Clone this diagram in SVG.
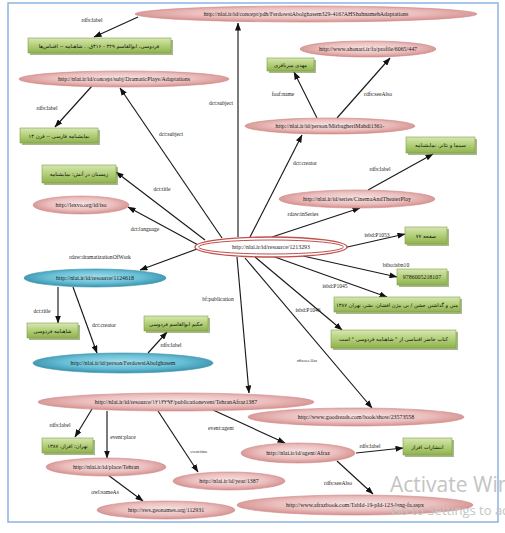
<svg xmlns="http://www.w3.org/2000/svg" width="505" height="533" viewBox="0 0 505 533">
<style>
.lbl{font-family:"Liberation Serif",serif;font-size:5.6px;fill:#222;text-anchor:middle}
.nt{font-family:"Liberation Serif",serif;font-size:5.9px;fill:#1a1a1a;text-anchor:middle;dominant-baseline:central}
.ft{font-family:"DejaVu Sans","Noto Sans",sans-serif;font-size:5.2px;fill:#111;text-anchor:middle;dominant-baseline:central}
.pink{fill:url(#gp);stroke:#cf8886;stroke-width:0.6}
.blue{fill:url(#gb);stroke:#3a8ea6;stroke-width:0.6}
.gbox{fill:url(#gg);stroke:#7f9f45;stroke-width:0.6}
.gsh{fill:#5f7f2a;opacity:0.55}
.e{stroke:#1a1a1a;stroke-width:1.15;fill:none;marker-end:url(#ah)}
.wm{font-family:"Open Sans","Liberation Sans",sans-serif;fill:#c4c4c4}
</style>
<defs>
<radialGradient id="gp" cx="50%" cy="45%" r="55%">
<stop offset="0" stop-color="#f7e2e2"/><stop offset="0.6" stop-color="#ebc0bf"/><stop offset="1" stop-color="#d48f8d"/>
</radialGradient>
<radialGradient id="gb" cx="50%" cy="45%" r="55%">
<stop offset="0" stop-color="#a5dcea"/><stop offset="0.6" stop-color="#68bfd6"/><stop offset="1" stop-color="#3892ac"/>
</radialGradient>
<linearGradient id="gg" x1="0" y1="0" x2="0" y2="1">
<stop offset="0" stop-color="#d7e7b3"/><stop offset="0.5" stop-color="#b2cf78"/><stop offset="1" stop-color="#8fb24f"/>
</linearGradient>
<marker id="ah" markerUnits="userSpaceOnUse" markerWidth="8" markerHeight="6" refX="7.5" refY="3" orient="auto">
<path d="M0,0 L8,3 L0,6 z" fill="#111"/>
</marker>
</defs>
<rect x="0" y="0" width="505" height="533" fill="#fff"/>
<rect x="8" y="3" width="490" height="519" fill="none" stroke="#8db3e2" stroke-width="1.5"/>

<g id="connectors">
<line class="e" x1="138" y1="17" x2="94" y2="37"/>
<text class="lbl" x="92" y="22">rdfs:label</text>
<line class="e" x1="92" y1="86" x2="55" y2="127"/>
<text class="lbl" x="47" y="110">rdfs:label</text>
<line class="e" x1="222" y1="238" x2="120" y2="88"/>
<text class="lbl" x="171" y="136">dct:subject</text>
<line class="e" x1="238" y1="237" x2="238" y2="23"/>
<text class="lbl" x="221" y="105">dct:subject</text>
<line class="e" x1="250" y1="237" x2="302" y2="135"/>
<text class="lbl" x="305" y="165">dct:creator</text>
<line class="e" x1="317" y1="118" x2="294" y2="72"/>
<text class="lbl" x="283" y="96">foaf:name</text>
<line class="e" x1="337" y1="118" x2="390" y2="58"/>
<text class="lbl" x="378" y="96">rdfs:seeAlso</text>
<line class="e" x1="368" y1="190" x2="433" y2="154"/>
<text class="lbl" x="380" y="171">rdfs:label</text>
<line class="e" x1="272" y1="237" x2="360" y2="208"/>
<text class="lbl" x="303" y="216">rdaw:inSeries</text>
<line class="e" x1="343" y1="248" x2="405" y2="234"/>
<text class="lbl" x="377" y="237">isbd:P1053</text>
<line class="e" x1="303" y1="256" x2="397" y2="277"/>
<text class="lbl" x="396" y="267">bibo:isbn10</text>
<line class="e" x1="272" y1="256" x2="387" y2="297"/>
<text class="lbl" x="335" y="288">isbd:P1045</text>
<line class="e" x1="255" y1="257" x2="342" y2="330"/>
<text class="lbl" x="308" y="312">isbd:P1046</text>
<line class="e" x1="245" y1="258" x2="372" y2="408"/>
<text class="lbl" x="307" y="362" style="font-size:4px">rdfs:seeAlso</text>
<line class="e" x1="237" y1="257" x2="249" y2="393"/>
<text class="lbl" x="218" y="301">bf:publication</text>
<line class="e" x1="197" y1="249" x2="140" y2="270"/>
<text class="lbl" x="100" y="259">rdaw:dramatizationOfWork</text>
<line class="e" x1="58" y1="287" x2="58" y2="323"/>
<text class="lbl" x="42" y="313">dct:title</text>
<line class="e" x1="73" y1="287" x2="97" y2="353"/>
<text class="lbl" x="104" y="327">dct:creator</text>
<line class="e" x1="148" y1="353" x2="167" y2="332"/>
<text class="lbl" x="171" y="347">rdfs:label</text>
<line class="e" x1="205" y1="240" x2="116" y2="172"/>
<text class="lbl" x="162" y="191">dct:title</text>
<line class="e" x1="200" y1="246" x2="128" y2="207"/>
<text class="lbl" x="145" y="231">dct:language</text>
<line class="e" x1="92" y1="409" x2="75" y2="437"/>
<text class="lbl" x="60" y="427">rdfs:label</text>
<line class="e" x1="107" y1="411" x2="107" y2="458"/>
<text class="lbl" x="123" y="439">event:place</text>
<line class="e" x1="108" y1="475" x2="143" y2="501"/>
<text class="lbl" x="105" y="494">owl:sameAs</text>
<line class="e" x1="158" y1="411" x2="198" y2="472"/>
<text class="lbl" x="199" y="453" style="font-size:4px">event:time</text>
<line class="e" x1="213" y1="410" x2="285" y2="443"/>
<text class="lbl" x="221" y="430">event:agent</text>
<line class="e" x1="356" y1="453" x2="403" y2="448"/>
<text class="lbl" x="370" y="448">rdfs:label</text>
<line class="e" x1="337" y1="461" x2="373" y2="494"/>
<text class="lbl" x="338" y="485">rdfs:seeAlso</text>
</g>

<g id="n-top"><ellipse class="pink" cx="306" cy="14" rx="171" ry="8"/><text class="nt" x="306" y="14">http://nlai.ir/id/concept/pdh/FerdowsiAbolghasem329-416?AHShahnamehAdaptations</text></g>
<g id="g-1"><rect class="gsh" x="30" y="40" width="143" height="15"/><rect class="gbox" x="28" y="38" width="143" height="15"/><text class="ft" x="99" y="45.5">فردوسی، ابوالقاسم ۳۲۹ - ۴۱۶ق. . شاهنامه -- اقتباس‌ها</text></g>
<g id="n-subj"><ellipse class="pink" cx="124" cy="79" rx="105" ry="8"/><text class="nt" x="124" y="79">http://nlai.ir/id/concept/subj/DramaticPlays/Adaptations</text></g>
<g id="g-2"><rect class="gsh" x="22" y="130" width="78" height="15"/><rect class="gbox" x="20" y="128" width="78" height="15"/><text class="ft" x="59" y="135.5">نمایشنامه فارسی -- قرن ۱۴</text></g>
<g id="n-ahonari"><ellipse class="pink" cx="368" cy="49" rx="68" ry="8"/><text class="nt" x="368" y="49">http://www.ahonari.ir/fa/profile/6065/447</text></g>
<g id="g-5"><rect class="gsh" x="269" y="60" width="47" height="13"/><rect class="gbox" x="267" y="58" width="47" height="13"/><text class="ft" x="290.5" y="64.5">مهدی میرباقری</text></g>
<g id="n-mirbagheri"><ellipse class="pink" cx="330" cy="126" rx="85" ry="8"/><text class="nt" x="330" y="126">http://nlai.ir/id/person/MirbagheriMahdi1361-</text></g>
<g id="g-7"><rect class="gsh" x="408" y="139" width="69" height="16"/><rect class="gbox" x="406" y="137" width="69" height="16"/><text class="ft" x="440.5" y="145">سینما و تئاتر. نمایشنامه</text></g>
<g id="n-series"><ellipse class="pink" cx="357" cy="199" rx="78" ry="9"/><text class="nt" x="357" y="199">http://nlai.ir/id/series/CinemaAndTheaterPlay</text></g>
<g id="g-9"><rect class="gsh" x="407" y="229" width="42" height="17"/><rect class="gbox" x="405" y="227" width="42" height="17"/><text class="ft" x="426" y="235.5">۷۷ صفحه</text></g>
<g id="g-11"><rect class="gsh" x="44" y="167" width="74" height="18"/><rect class="gbox" x="42" y="165" width="74" height="18"/><text class="ft" x="79" y="174">زمستان در آتش: نمایشنامه</text></g>
<g id="n-lexvo"><ellipse class="pink" cx="81" cy="205" rx="48" ry="9"/><text class="nt" x="81" y="205">http://lexvo.org/id/iso</text></g>
<g id="n-center"><ellipse cx="271" cy="247" rx="76" ry="10" fill="#fff" stroke="#c0504d" stroke-width="1.3"/><ellipse cx="271" cy="247" rx="72.5" ry="7" fill="none" stroke="#c0504d" stroke-width="1"/><text class="nt" x="271" y="247">http://nlai.ir/id/resource/1213293</text></g>
<g id="n-blue1"><ellipse class="blue" cx="95" cy="278" rx="71" ry="9"/><text class="nt" x="95" y="278">http://nlai.ir/id/resource/1124618</text></g>
<g id="g-14"><rect class="gsh" x="29" y="325" width="51" height="15"/><rect class="gbox" x="27" y="323" width="51" height="15"/><text class="ft" x="52.5" y="330.5">شاهنامه فردوسی</text></g>
<g id="g-15"><rect class="gsh" x="146" y="318" width="64" height="15"/><rect class="gbox" x="144" y="316" width="64" height="15"/><text class="ft" x="176" y="323.5">حکیم ابوالقاسم فردوسی</text></g>
<g id="n-blue2"><ellipse class="blue" cx="123" cy="363" rx="90" ry="10"/><text class="nt" x="123" y="363">http://nlai.ir/id/person/FerdowsiAbolghasem</text></g>
<g id="g-17"><rect class="gsh" x="399" y="271" width="50" height="16"/><rect class="gbox" x="397" y="269" width="50" height="16"/><text class="nt" x="422" y="277">9786005218107</text></g>
<g id="g-18"><rect class="gsh" x="336" y="299" width="126" height="15"/><rect class="gbox" x="334" y="297" width="126" height="15"/><text class="ft" x="397" y="304.5">متن و گذاشتن جشن / بی بیژن افشان. نشر، تهران ۱۳۸۷</text></g>
<g id="g-19"><rect class="gsh" x="333" y="332" width="125" height="18"/><rect class="gbox" x="331" y="330" width="125" height="18"/><text class="ft" x="393.5" y="339">کتاب حاضر اقتباسی از " شاهنامه فردوسی " است</text></g>
<g id="n-goodreads"><ellipse class="pink" cx="356" cy="417" rx="108" ry="9"/><text class="nt" x="356" y="417">http://www.goodreads.com/book/show/23573558</text></g>
<g id="n-pub"><ellipse class="pink" cx="176" cy="402" rx="138" ry="9"/><text class="nt" x="176" y="402">http://nlai.ir/id/resource/۱۲۱۳۲۹۳/publicationevent/TehranAfraz1387</text></g>
<g id="g-22"><rect class="gsh" x="44" y="440" width="51" height="15"/><rect class="gbox" x="42" y="438" width="51" height="15"/><text class="ft" x="67.5" y="445.5">تهران: افراز، ۱۳۸۷</text></g>
<g id="n-tehran"><ellipse class="pink" cx="106" cy="467" rx="60" ry="9"/><text class="nt" x="106" y="467">http://nlai.ir/id/place/Tehran</text></g>
<g id="n-geonames"><ellipse class="pink" cx="166" cy="510" rx="69" ry="9"/><text class="nt" x="166" y="510">http://sws.geonames.org/112931</text></g>
<g id="n-year"><ellipse class="pink" cx="229" cy="481" rx="56" ry="9"/><text class="nt" x="229" y="481">http://nlai.ir/id/year/1387</text></g>
<g id="n-afraz"><ellipse class="pink" cx="298" cy="453" rx="57" ry="10"/><text class="nt" x="298" y="453">http://nlai.ir/id/agent/Afraz</text></g>
<g id="g-27"><rect class="gsh" x="405" y="440" width="49" height="17"/><rect class="gbox" x="403" y="438" width="49" height="17"/><text class="ft" x="427.5" y="446.5">انتشارات افراز</text></g>
<g id="n-afrazbook"><ellipse class="pink" cx="355" cy="505" rx="118" ry="10"/><text class="nt" x="355" y="505">http://www.afrazbook.com/TabId-19-pId-123-lang-fa.aspx</text></g>

<text class="wm" x="390" y="492" style="font-size:21px">Activate Windows</text>
<text class="wm" x="391" y="515" style="font-size:13px">Go to Settings to activate Windows.</text>
</svg>
